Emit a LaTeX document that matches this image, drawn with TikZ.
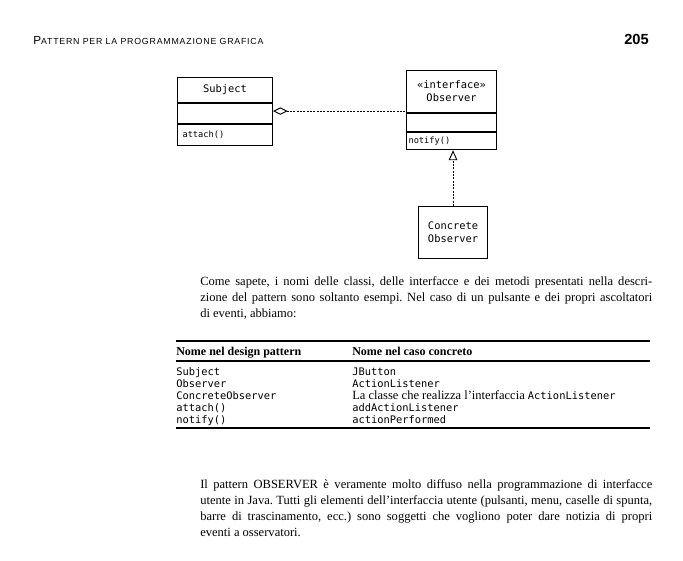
\documentclass[tikz,border=0pt]{standalone}
\usepackage{fontspec}
\setmainfont{Liberation Serif}
\setsansfont{Liberation Sans}
\setmonofont{DejaVu Sans Mono}
\usetikzlibrary{arrows.meta,positioning}
\newcommand\umlfont{\fontsize{7.8}{9.75}\selectfont\ttfamily}
\newcommand\opsfont{\fontsize{6.5}{8}\selectfont\ttfamily}
\newcommand\bodyfont{\fontsize{9.4}{12}\selectfont\rmfamily\frenchspacing}
\tikzset{
  umlbox/.style 2 args={draw, line width=0.8pt, inner sep=0pt, align=center,
    minimum width=#1, minimum height=#2, font=\umlfont},
  umlops/.style 2 args={draw, line width=0.8pt, inner ysep=0pt, align=left,
    text width=#1, minimum height=#2, font=\opsfont},
  aggr/.style={line width=0.7pt, dash pattern=on 1.5pt off 1pt,
    {Diamond[open,length=11pt,width=5.5pt]}-},
  realize/.style={line width=0.7pt, dash pattern=on 1.5pt off 1pt,
    -{Triangle[open,length=7.5pt,width=6.5pt]}},
  para/.style={anchor=north west, inner sep=0pt, text width=339pt,
    align=justify, font=\bodyfont},
  thead/.style={anchor=base west, inner sep=0pt, font=\fontsize{9}{11}\selectfont\bfseries},
  tcode/.style={anchor=base west, inner sep=0pt, font=\fontsize{7.8}{9}\selectfont\ttfamily},
  tbody/.style={anchor=base west, inner sep=0pt, font=\bodyfont},
  trule/.style={line width=0.8pt}
}
\begin{document}
\begin{tikzpicture}[x=0.75pt,y=-0.75pt]
  \fill[white] (0,0) rectangle (683,561);
  \useasboundingbox (0,0) rectangle (683,561);
  \node[anchor=base west, inner sep=0pt, font=\sffamily] (runhead) at (33,44)
    {\fontsize{8.8}{10}\selectfont P\fontsize{6.6}{8}\selectfont\addfontfeature{LetterSpace=9}ATTERN PER LA PROGRAMMAZIONE GRAFICA};
  \node[anchor=base east, inner sep=0pt, font=\fontsize{11}{12}\selectfont\sffamily\bfseries] (pagenum) at (649,44) {205};

  \node[umlbox={71.25pt}{18.75pt}, anchor=north west] (subjname) at (177,77) {Subject};
  \node[umlbox={71.25pt}{15pt}, below=0pt of subjname] (subjattr) {};
  \node[umlops={63.75pt}{15.75pt}, inner xsep=3.75pt, below=0pt of subjattr] (subjops) {attach()};

  \node[umlbox={67.5pt}{31.5pt}, anchor=north west] (obsname) at (406,70) {«interface»\\Observer};
  \node[umlbox={67.5pt}{13.5pt}, below=0pt of obsname] (obsattr) {};
  \node[umlops={64.5pt}{12.75pt}, inner xsep=1.5pt, below=0pt of obsattr] (obsops) {notify()};

  \node[umlbox={51.75pt}{39pt}, anchor=north west] (concrete) at (418,206) {Concrete\\Observer};

  \draw[aggr] (subjattr.3) -- (subjattr.3 -| obsname.west);
  \draw[realize] (concrete.north) -- (concrete.north |- obsops.south);

  \node[para] (intro) at (200,276) {Come sapete, i nomi delle classi, delle interfacce e dei metodi presentati nella descri-\linebreak
    zione del pattern sono soltanto esempi. Nel caso di un pulsante e dei propri ascoltatori\linebreak
    di eventi, abbiamo:};

  \draw[trule] (176,341) -- (650,341);
  \node[thead] (h1) at (176,355) {Nome nel design pattern};
  \node[thead] (h2) at (352,355) {Nome nel caso concreto};
  \draw[trule] (176,361) -- (650,361);
  \node[tcode] (r1a) at (176,375) {Subject};
  \node[tcode] (r1b) at (352,375) {JButton};
  \node[tcode] (r2a) at (176,387) {Observer};
  \node[tcode] (r2b) at (352,387) {ActionListener};
  \node[tcode] (r3a) at (176,399) {ConcreteObserver};
  \node[tbody] (r3b) at (352,399) {La classe che realizza l’interfaccia {\fontsize{7.8}{9}\selectfont\ttfamily ActionListener}};
  \node[tcode] (r4a) at (176,411) {attach()};
  \node[tcode] (r4b) at (352,411) {addActionListener};
  \node[tcode] (r5a) at (176,423) {notify()};
  \node[tcode] (r5b) at (352,423) {actionPerformed};
  \draw[trule] (176,428) -- (650,428);

  \node[para] (outro) at (200,479) {Il pattern OBSERVER è veramente molto diffuso nella programmazione di interfacce\linebreak
    utente in Java. Tutti gli elementi dell’interfaccia utente (pulsanti, menu, caselle di spunta,\linebreak
    barre di trascinamento, ecc.) sono soggetti che vogliono poter dare notizia di propri\linebreak
    eventi a osservatori.};
\end{tikzpicture}
\end{document}
